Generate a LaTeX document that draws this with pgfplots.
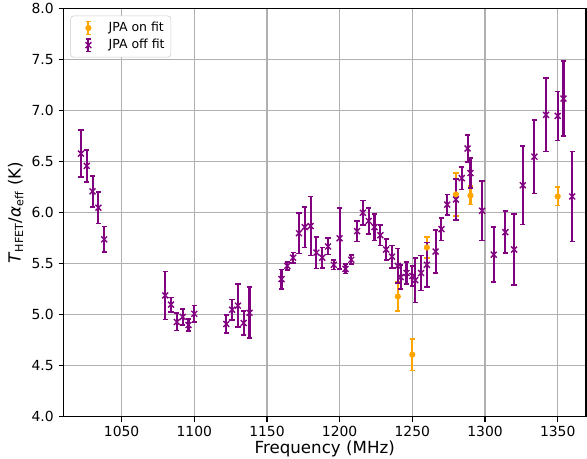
\documentclass[border=0pt]{standalone}
\usepackage{fontspec}
\setmainfont{DejaVu Sans}
\usepackage{pgfplots}
\pgfplotsset{compat=1.18}
\usepackage{pgfplotstable}

\definecolor{mplorange}{HTML}{FFA500}
\definecolor{mplpurple}{HTML}{800080}
\definecolor{gridgray}{HTML}{B0B0B0}
\definecolor{legendedge}{HTML}{CCCCCC}

% JPA on fit: frequency (MHz), T/alpha (K), error
\pgfplotstableread{
f    T     e
1240 5.18  0.145
1250 4.61  0.155
1260 5.66  0.10
1280 6.18  0.21
1290 6.17  0.09
1350 6.16  0.09
}\jpaon

% JPA off fit
\pgfplotstableread{
f    T     e
1022 6.58  0.23
1026 6.46  0.155
1030 6.21  0.15
1034 6.05  0.155
1038 5.74  0.125
1080 5.19  0.235
1084 5.10  0.07
1088 4.93  0.085
1092 4.98  0.08
1096 4.90  0.06
1100 5.01  0.08
1122 4.91  0.09
1126 5.05  0.10
1130 5.09  0.21
1134 4.92  0.12
1138 5.02  0.25
1160 5.35  0.095
1164 5.48  0.04
1168 5.56  0.05
1172 5.80  0.20
1176 5.86  0.20
1180 5.87  0.29
1184 5.61  0.155
1188 5.56  0.10
1192 5.67  0.08
1196 5.49  0.045
1200 5.75  0.30
1204 5.45  0.045
1208 5.54  0.045
1212 5.82  0.10
1216 6.00  0.12
1220 5.92  0.125
1224 5.86  0.13
1228 5.78  0.10
1232 5.64  0.10
1236 5.57  0.11
1240 5.48  0.17
1242 5.37  0.12
1246 5.41  0.11
1250 5.38  0.10
1252 5.34  0.22
1256 5.41  0.17
1260 5.49  0.22
1266 5.62  0.21
1270 5.84  0.11
1274 6.08  0.10
1280 6.13  0.20
1284 6.34  0.11
1288 6.63  0.13
1290 6.39  0.15
1298 6.02  0.29
1306 5.59  0.27
1314 5.81  0.205
1320 5.64  0.35
1326 6.27  0.385
1334 6.55  0.36
1342 6.96  0.36
1350 6.95  0.24
1354 7.12  0.37
1360 6.16  0.44
}\jpaoff

\begin{document}
\begin{tikzpicture}
\begin{axis}[
  scale only axis,
  width=376.2pt, height=293.8pt,
  xmin=1010, xmax=1369.5, ymin=4, ymax=8,
  xtick={1050,1100,...,1350},
  ytick={4,4.5,...,8},
  /pgf/number format/assume math mode=true,
  /pgf/number format/1000 sep={},
  yticklabel style={/pgf/number format/fixed, /pgf/number format/fixed zerofill, /pgf/number format/precision=1},
  ticklabel style={font=\fontsize{10}{12}\selectfont},
  tick pos=left,
  tick align=outside,
  major tick length=3.5pt,
  tick style={black, line width=0.8pt},
  axis line style={line width=0.8pt},
  grid=major,
  major grid style={gridgray, line width=0.8pt},
  xlabel={Frequency (MHz)},
  xlabel style={yshift=4pt},
  ylabel={\textit{T}\textsubscript{HFET}/\textit{α}\textsubscript{eff} (K)},
  ylabel style={yshift=-1pt},
  label style={font=\fontsize{12}{14}\selectfont},
  legend cell align=left,
  legend style={at={(0.0133,0.983)}, anchor=north west, draw=legendedge,
    rounded corners=2pt, fill=white, font=\fontsize{9}{12}\selectfont,
    inner sep=2.5pt, row sep=0pt},
  legend image code/.code={%
    \path[draw=none] (0cm,0cm) -- (0.8cm,0cm);
    \draw[#1, mark=none, line width=1.5pt] (0.36cm,-0.16cm) -- (0.36cm,0.16cm);
    \draw[#1, mark=none, line width=1pt] (0.30cm,-0.16cm) -- (0.42cm,-0.16cm) (0.30cm,0.16cm) -- (0.42cm,0.16cm);
    \draw[#1] plot coordinates {(0.36cm,0cm)};
  },
  error bars/error bar style={line width=1.5pt},
  error bars/error mark options={rotate=90, mark size=1.9pt, line width=1.2pt},
]
\addplot[only marks, color=mplorange, mark=*, mark size=2pt,
  error bars/.cd, y dir=both, y explicit]
  table[x=f, y=T, y error=e] {\jpaon};
\addlegendentry{JPA on fit}
\addplot[only marks, color=mplpurple, mark=x, mark size=3pt, mark options={line width=1pt},
  error bars/.cd, y dir=both, y explicit]
  table[x=f, y=T, y error=e] {\jpaoff};
\addlegendentry{JPA off fit}
\end{axis}
\pgfresetboundingbox
\path[use as bounding box] ([xshift=-45.7pt,yshift=-29.7pt]current axis.south west) rectangle ([xshift=0.7pt,yshift=6.3pt]current axis.north east);
\end{tikzpicture}
\end{document}
